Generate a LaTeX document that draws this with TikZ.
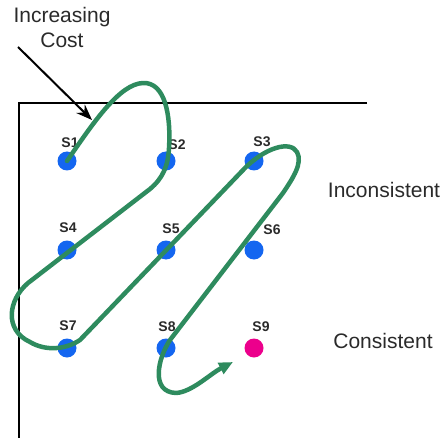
\documentclass[tikz,border=0pt]{standalone}
\usepackage{fontspec}
\setmainfont{Liberation Sans}
\usetikzlibrary{arrows.meta}
\definecolor{pathgreen}{HTML}{2E8B5E}
\definecolor{dotblue}{HTML}{1466F0}
\definecolor{txtgray}{HTML}{2A2A2A}
\begin{document}
\begin{tikzpicture}[x=1pt,y=-1pt,
  dot/.style={circle,fill=dotblue,inner sep=0pt,minimum size=19pt},
  hotdot/.style={circle,fill=magenta,inner sep=0pt,minimum size=19pt},
  slabel/.style={font=\fontsize{14}{14}\selectfont\bfseries,text=txtgray,inner sep=0pt},
  bigtext/.style={font=\fontsize{21}{25}\selectfont,text=txtgray,inner sep=0pt,align=center},
  frame/.style={line width=1.3pt,black},
  walk/.style={line width=4.5pt,pathgreen,line cap=round,line join=round}]
\useasboundingbox (0,0) rectangle (446,438);
% frame
\coordinate (fc) at (19,103);
\coordinate (fr) at (367,103);
\coordinate (fb) at (19,438);
\draw[frame] (fr) -- (fc) -- (fb);
% dots
\node[dot] (s1) at (67,161) {};
\node[dot] (s2) at (166,161) {};
\node[dot] (s3) at (254,161) {};
\node[dot] (s4) at (67,250) {};
\node[dot] (s5) at (166,250) {};
\node[dot] (s6) at (254,250) {};
\node[dot] (s7) at (67,348) {};
\node[dot] (s8) at (166,348) {};
\node[hotdot] (s9) at (254,348) {};
% labels
\node[slabel] (l1) at (70,143) {S1};
\node[slabel] (l2) at (177,145) {S2};
\node[slabel] (l3) at (262,142) {S3};
\node[slabel] (l4) at (68,228) {S4};
\node[slabel] (l5) at (171,229) {S5};
\node[slabel] (l6) at (272,230) {S6};
\node[slabel] (l7) at (68,326) {S7};
\node[slabel] (l8) at (167,327) {S8};
\node[slabel] (l9) at (261,327) {S9};
% side texts
\node[bigtext] (inc) at (384,190) {Inconsistent};
\node[bigtext] (con) at (383,341) {Consistent};
\node[bigtext] (cost) at (62,27) {Increasing\\Cost};
% cost arrow
\coordinate (ca) at (18,47);
\coordinate (cb) at (92,120);
\draw[line width=2pt,-{Stealth[length=16pt,width=12pt]}] (ca) -- (cb);
% green walk
\coordinate (w1) at (143,83);
\coordinate (w2) at (150,189);
\coordinate (w3) at (28,283);
\coordinate (w4) at (30,342);
\coordinate (w5) at (80,340);
\coordinate (w6) at (245,168);
\coordinate (w7) at (297,152);
\coordinate (w8) at (283,193);
\coordinate (w9) at (176,393);
\coordinate (wend) at (233,362);
\draw[walk,-{Triangle[length=14pt,width=12pt]}]
  (s1.center) .. controls (95,120) and (120,84) .. (w1)
  .. controls (165,82) and (171,115) .. (169,148)
  .. controls (168,166) and (163,178) .. (w2)
  -- (w3)
  .. controls (8,300) and (4,330) .. (w4)
  .. controls (45,351) and (65,350) .. (w5)
  -- (w6)
  .. controls (265,148) and (290,140) .. (w7)
  .. controls (303,163) and (293,178) .. (w8)
  -- (170,340)
  .. controls (158,358) and (150,392) .. (w9)
  .. controls (192,392) and (210,374) .. (wend);
\end{tikzpicture}
\end{document}
